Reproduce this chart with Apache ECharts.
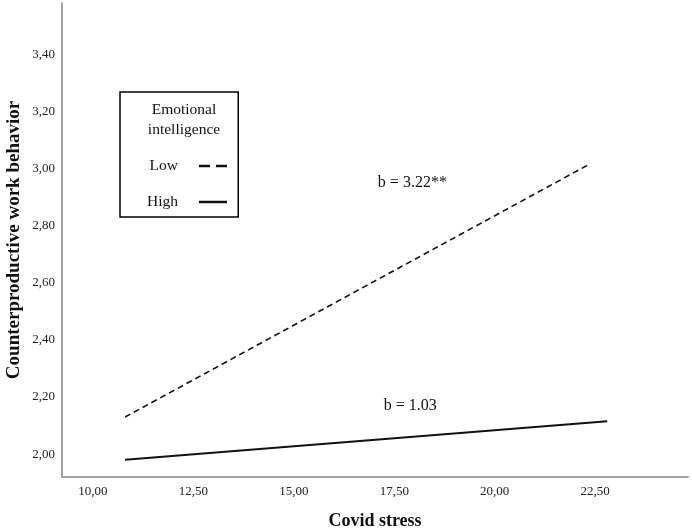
<!DOCTYPE html>
<html>
<head>
<meta charset="utf-8">
<script src="https://cdn.jsdelivr.net/npm/echarts@6/dist/echarts.min.js"></script>
<style>
  html, body { margin: 0; padding: 0; background: #fff; }
  #chart { width: 692px; height: 529px; }
</style>
</head>
<body>
<div id="chart"></div>
<script>
// values
var lowX = [10.8, 22.35];
var lowY = [2.13, 3.015];
var highX = [10.8, 22.8];
var highY = [1.98, 2.115];
var xTicks = [10, 12.5, 15, 17.5, 20, 22.5];
var yTicks = [2.0, 2.2, 2.4, 2.6, 2.8, 3.0, 3.2, 3.4];
var notes = [
    { text: "b = 3.22**", x: 17.95, y: 2.95 },
    { text: "b = 1.03", x: 17.9, y: 2.17 }
];

var serif = "Liberation Serif";
var fmt = function(v){
    return v.toFixed(2).replace(".", ",");
};
var pairs = function(xs, ys){
    return xs.map(function(x, i){ return [x, ys[i]]; });
};
// invisible point that only carries a text label
var note = function(n){
    return {
        symbol: "circle",
        symbolSize: 1,
        itemStyle: { color: "rgba(0,0,0,0)" },
        label: { show: true, position: "inside", formatter: n.text, fontFamily: serif, fontSize: 16, color: "#111" },
        data: [{ coord: [n.x, n.y] }]
    };
};

var myChart = echarts.init(document.getElementById("chart"));
myChart.setOption({
    animation: false,
    backgroundColor: "#fff",
    grid: { left: 62, right: 4, top: 3, bottom: 52, containLabel: false, outerBoundsMode: "none" },
    xAxis: {
        type: "value",
        min: 9.23,
        max: 24.81,
        name: "Covid stress",
        nameLocation: "middle",
        nameGap: 35,
        nameTextStyle: { fontFamily: serif, fontWeight: "bold", fontSize: 18, color: "#111" },
        axisLine: { lineStyle: { color: "#a3a3a3", width: 2 } },
        axisTick: { show: false },
        splitLine: { show: false },
        axisLabel: {
            customValues: xTicks,
            formatter: fmt,
            fontFamily: serif, fontSize: 13, color: "#222", margin: 8
        }
    },
    yAxis: {
        type: "value",
        min: 1.92,
        max: 3.58,
        name: "Counterproductive work behavior",
        nameLocation: "middle",
        nameGap: 38,
        nameMoveOverlap: false,
        nameTextStyle: { fontFamily: serif, fontWeight: "bold", fontSize: 19, color: "#111" },
        axisLine: { show: true, lineStyle: { color: "#a3a3a3", width: 2 } },
        axisTick: { show: false },
        splitLine: { show: false },
        axisLabel: {
            customValues: yTicks,
            formatter: fmt,
            fontFamily: serif, fontSize: 13, color: "#222", margin: 7
        }
    },
    legend: {
        orient: "vertical",
        left: 120,
        top: 92,
        align: "right",
        itemWidth: 28,
        itemHeight: 10,
        itemGap: 20,
        padding: [66, 10, 7, 27],
        borderColor: "#000",
        borderWidth: 1.5,
        itemStyle: { opacity: 0 },
        lineStyle: { width: 2.5 },
        textStyle: { fontFamily: serif, fontSize: 15.5, color: "#111", padding: [0, 16, 0, 0] },
        data: [{ name: "Low", lineStyle: { type: [11, 6] } }, "High"]
    },
    graphic: [{
        type: "text",
        x: 184,
        y: 100,
        style: {
            text: "Emotional\nintelligence",
            fontFamily: serif, fontSize: 15.5, fill: "#111",
            align: "center", verticalAlign: "top", lineHeight: 20
        }
    }],
    series: [{
        name: "Low",
        type: "line",
        symbol: "none",
        data: pairs(lowX, lowY),
        lineStyle: { color: "#111", width: 1.6, type: [6, 4] },
        itemStyle: { color: "#111" },
        markPoint: note(notes[0])
    }, {
        name: "High",
        type: "line",
        symbol: "none",
        data: pairs(highX, highY),
        lineStyle: { color: "#111", width: 2 },
        itemStyle: { color: "#111" },
        markPoint: note(notes[1])
    }]
});
</script>
</body>
</html>
